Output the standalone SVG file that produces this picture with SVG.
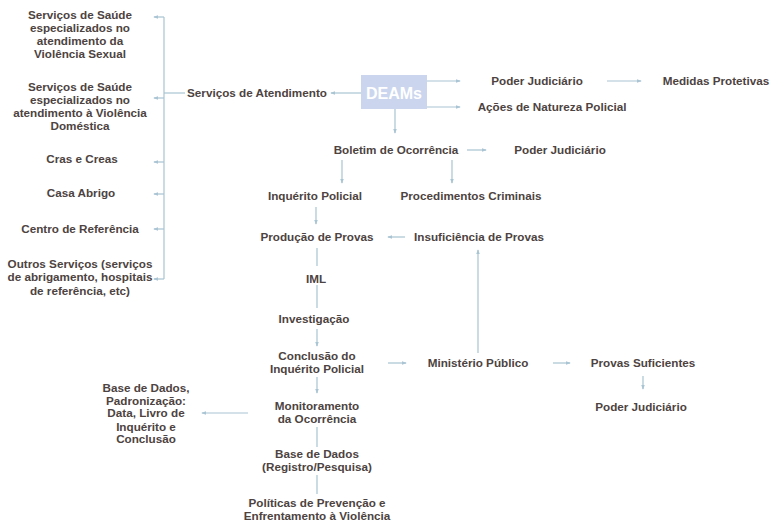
<svg xmlns="http://www.w3.org/2000/svg" width="771" height="523" viewBox="0 0 771 523">
<defs>
<style>
text{font-family:"Liberation Sans","DejaVu Sans",sans-serif;font-weight:bold;font-size:11.7px;fill:#4d4341;text-anchor:middle}
.c line,.c polyline{stroke:#a9c4d2;stroke-width:1.2;fill:none}
.a{marker-end:url(#ah)}
.deam{fill:#cbd6ee}
.deamt{fill:#ffffff;font-size:16px}
</style>
<marker id="ah" viewBox="0 0 6 6" refX="5" refY="3" markerWidth="5" markerHeight="5" orient="auto" markerUnits="userSpaceOnUse">
<path d="M0,0.8 L6,3 L0,5.2 Z" fill="#a9c4d2"/>
</marker>
</defs>
<rect width="771" height="523" fill="#ffffff"/>
<g class="c" id="connectors">
<line x1="164" y1="17" x2="164" y2="279"/>
<line x1="164" y1="93" x2="185" y2="93"/>
<line class="a" x1="164" y1="17" x2="154" y2="17"/>
<line class="a" x1="164" y1="98" x2="154" y2="98"/>
<line class="a" x1="164" y1="162" x2="154" y2="162"/>
<line class="a" x1="164" y1="194" x2="154" y2="194"/>
<line class="a" x1="164" y1="229" x2="154" y2="229"/>
<line class="a" x1="164" y1="279" x2="154" y2="279"/>
<line class="a" x1="361" y1="93" x2="331" y2="93"/>
<line class="a" x1="427" y1="81" x2="460" y2="81"/>
<line class="a" x1="427" y1="107" x2="460" y2="107"/>
<line class="a" x1="607" y1="81" x2="641" y2="81"/>
<line class="a" x1="395" y1="109" x2="395" y2="133"/>
<line class="a" x1="467" y1="150" x2="486" y2="150"/>
<line class="a" x1="342" y1="160" x2="342" y2="183"/>
<line class="a" x1="452" y1="160" x2="452" y2="183"/>
<line class="a" x1="316" y1="207" x2="316" y2="224"/>
<line class="a" x1="405" y1="237" x2="388" y2="237"/>
<line x1="317" y1="248" x2="317" y2="266"/>
<line x1="317" y1="285" x2="317" y2="308"/>
<line class="a" x1="317" y1="329" x2="317" y2="346"/>
<line class="a" x1="317" y1="377" x2="317" y2="393"/>
<line class="a" x1="248" y1="413" x2="202" y2="413"/>
<line x1="317" y1="427" x2="317" y2="447"/>
<line x1="317" y1="475" x2="317" y2="494"/>
<line class="a" x1="388" y1="363" x2="406" y2="363"/>
<line class="a" x1="478" y1="353" x2="478" y2="250"/>
<line class="a" x1="553" y1="363" x2="570" y2="363"/>
<line class="a" x1="643" y1="376" x2="643" y2="389"/>
</g>
<g id="saude-sexual"><text x="80" y="19">Serviços de Saúde</text><text x="80" y="32">especializados no</text><text x="80" y="45">atendimento da</text><text x="80" y="58">Violência Sexual</text></g>
<g id="saude-domestica"><text x="80" y="91">Serviços de Saúde</text><text x="80" y="104">especializados no</text><text x="80" y="117">atendimento à Violência</text><text x="80" y="130">Doméstica</text></g>
<g id="cras"><text x="82" y="163">Cras e Creas</text></g>
<g id="casa-abrigo"><text x="81" y="197">Casa Abrigo</text></g>
<g id="centro-referencia"><text x="80" y="233">Centro de Referência</text></g>
<g id="outros"><text x="80" y="268">Outros Serviços (serviços</text><text x="80" y="281">de abrigamento, hospitais</text><text x="80" y="295">de referência, etc)</text></g>
<g id="servicos-atendimento"><text x="257" y="97">Serviços de Atendimento</text></g>
<g id="deams"><rect class="deam" x="361" y="75" width="66" height="34"/><text class="deamt" x="394" y="98.5">DEAMs</text></g>
<g id="poder-judiciario-1"><text x="537" y="85">Poder Judiciário</text></g>
<g id="medidas-protetivas"><text x="716" y="85">Medidas Protetivas</text></g>
<g id="acoes-policial"><text x="552" y="111">Ações de Natureza Policial</text></g>
<g id="boletim"><text x="396" y="154">Boletim de Ocorrência</text></g>
<g id="poder-judiciario-2"><text x="560" y="154">Poder Judiciário</text></g>
<g id="inquerito"><text x="315" y="200">Inquérito Policial</text></g>
<g id="procedimentos"><text x="471" y="200">Procedimentos Criminais</text></g>
<g id="producao-provas"><text x="317" y="241">Produção de Provas</text></g>
<g id="insuficiencia"><text x="479" y="241">Insuficiência de Provas</text></g>
<g id="iml"><text x="316" y="283">IML</text></g>
<g id="investigacao"><text x="314" y="323">Investigação</text></g>
<g id="conclusao"><text x="317" y="360">Conclusão do</text><text x="317" y="373">Inquérito Policial</text></g>
<g id="ministerio"><text x="478" y="367">Ministério Público</text></g>
<g id="provas-suficientes"><text x="643" y="367">Provas Suficientes</text></g>
<g id="poder-judiciario-3"><text x="641" y="411">Poder Judiciário</text></g>
<g id="monitoramento"><text x="317" y="410">Monitoramento</text><text x="317" y="423">da Ocorrência</text></g>
<g id="base-padronizacao"><text x="146" y="392">Base de Dados,</text><text x="146" y="405">Padronização:</text><text x="146" y="417">Data, Livro de</text><text x="146" y="431">Inquérito e</text><text x="146" y="443">Conclusão</text></g>
<g id="base-registro"><text x="317" y="458">Base de Dados</text><text x="317" y="471">(Registro/Pesquisa)</text></g>
<g id="politicas"><text x="317" y="507">Políticas de Prevenção e</text><text x="317" y="520">Enfrentamento à Violência</text></g>
</svg>
